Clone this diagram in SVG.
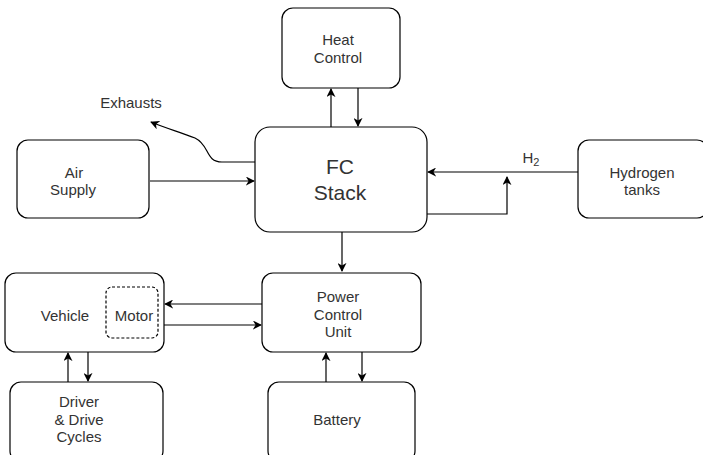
<svg xmlns="http://www.w3.org/2000/svg" width="703" height="455" viewBox="0 0 703 455">
<style>
.box{fill:#fff;stroke:#000;stroke-width:1.2}
.dash{fill:none;stroke:#000;stroke-width:1.2;stroke-dasharray:3,2}
.t{font-family:"Liberation Sans",Arial,sans-serif;font-size:15px;fill:#333;text-anchor:middle}
.big{font-size:21px}
.c{fill:none;stroke:#000;stroke-width:1.2}
</style>
<defs>
<marker id="a" viewBox="0 0 10 10" refX="9" refY="5" markerWidth="9" markerHeight="9" markerUnits="userSpaceOnUse" orient="auto">
<path d="M0,0 L10,5 L0,10 L3,5 Z" fill="#000"/>
</marker>
</defs>
<rect width="703" height="455" fill="#fff"/>
<g id="connectors">
<path class="c" d="M331,127 V89" marker-end="url(#a)"/>
<path class="c" d="M358,88 V126" marker-end="url(#a)"/>
<path class="c" d="M150,181 H254" marker-end="url(#a)"/>
<path class="c" d="M255,162 H222 C205,162 210,145 195,138 C180,132 165,128 151,122" marker-end="url(#a)"/>
<path class="c" d="M578,172 H428" marker-end="url(#a)"/>
<path class="c" d="M427,214 H507 V177" marker-end="url(#a)"/>
<path class="c" d="M342,232 V271" marker-end="url(#a)"/>
<path class="c" d="M262,304 H165" marker-end="url(#a)"/>
<path class="c" d="M164,325 H261" marker-end="url(#a)"/>
<path class="c" d="M68,382 V353" marker-end="url(#a)"/>
<path class="c" d="M88,352 V381" marker-end="url(#a)"/>
<path class="c" d="M326,382 V353" marker-end="url(#a)"/>
<path class="c" d="M362,352 V381" marker-end="url(#a)"/>
</g>
<text class="t" x="131" y="108">Exhausts</text>
<text class="t" x="531" y="163">H<tspan font-size="11" dy="3">2</tspan></text>
<g id="heat"><rect class="box" x="282" y="8" width="118" height="80" rx="11"/><text class="t" x="338" y="45">Heat</text><text class="t" x="338" y="63">Control</text></g>
<g id="fc"><rect class="box" x="255" y="127" width="172" height="105" rx="15"/><text class="t big" x="340" y="174">FC</text><text class="t big" x="340" y="200">Stack</text></g>
<g id="air"><rect class="box" x="17" y="140" width="132" height="78" rx="11"/><text class="t" x="74" y="178">Air</text><text class="t" x="73" y="195">Supply</text></g>
<g id="h2"><rect class="box" x="578" y="140" width="130" height="78" rx="11"/><text class="t" x="642" y="178">Hydrogen</text><text class="t" x="642" y="195">tanks</text></g>
<g id="pcu"><rect class="box" x="262" y="273" width="159" height="79" rx="11"/><text class="t" x="338" y="302">Power</text><text class="t" x="338" y="320">Control</text><text class="t" x="338" y="337">Unit</text></g>
<g id="vehicle"><rect class="box" x="5" y="273" width="159" height="79" rx="11"/><text class="t" x="65" y="321">Vehicle</text>
<g id="motor"><rect class="dash" x="106" y="287" width="52" height="51" rx="6"/><text class="t" x="134" y="321">Motor</text></g></g>
<g id="driver"><rect class="box" x="10" y="382" width="153" height="80" rx="11"/><text class="t" x="79" y="407">Driver</text><text class="t" x="79" y="425">&amp; Drive</text><text class="t" x="79" y="442">Cycles</text></g>
<g id="battery"><rect class="box" x="268" y="382" width="147" height="80" rx="11"/><text class="t" x="337" y="425">Battery</text></g>
</svg>
